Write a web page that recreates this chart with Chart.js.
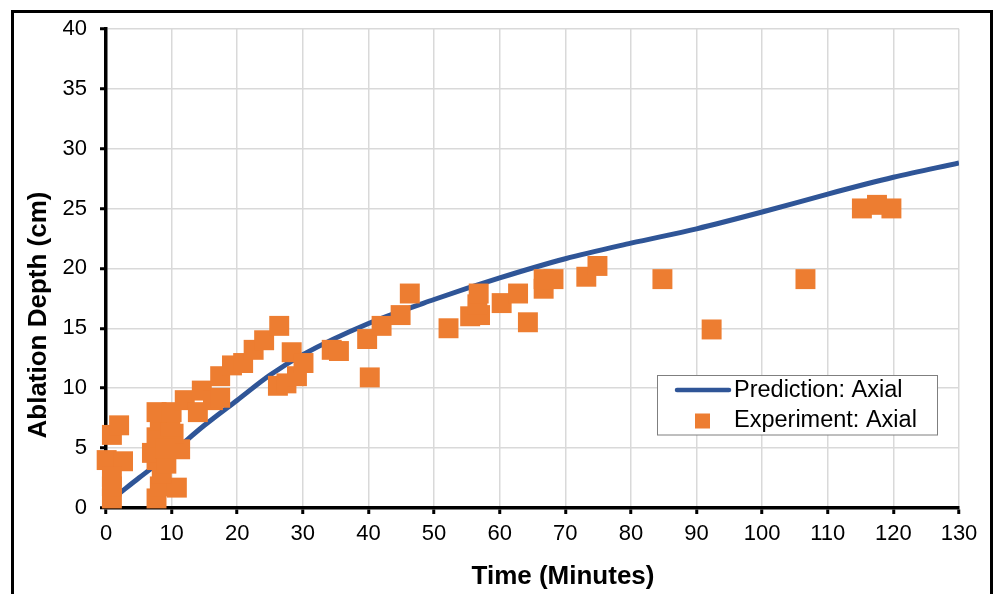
<!DOCTYPE html>
<html>
<head>
<meta charset="utf-8">
<script src="https://cdn.jsdelivr.net/npm/chart.js@4/dist/chart.umd.min.js"></script>
<style>
  html, body { margin: 0; padding: 0; background: #fff; overflow: hidden; }
  #wrap { position: relative; width: 994px; height: 594px; }
</style>
</head>
<body>
<div id="wrap"><canvas id="chart" width="994" height="594"></canvas></div>
<script>
// Axial ablation depth vs. time: model curve and measured points
const PRED_TIME  = [2, 5, 10, 15, 20, 25, 30, 40, 50, 60, 70, 80, 90, 100, 110, 120, 130];
const PRED_DEPTH = [1.2, 2.5, 4.6, 6.9, 9.0, 11.1, 12.8, 15.4, 17.4, 19.2, 20.8, 22.1, 23.3, 24.7, 26.2, 27.6, 28.8];

const EXP_TIME = [
  0.1, 0.9, 2.0, 2.6, 0.9, 0.9, 0.9,
  7.7, 8.2, 10.8, 8.5, 7.7, 7.0, 9.2, 11.3, 7.7, 10.3, 8.2, 9.0, 9.8,
  7.7, 10.0, 12.0, 14.0, 14.6, 16.3, 17.4, 17.4, 19.2, 20.9, 22.5, 24.1, 26.4,
  26.2, 27.5, 28.3, 29.1, 30.1,
  34.4, 35.5, 39.8, 40.2, 42.0, 44.9, 46.3, 52.2, 55.5, 57.0, 56.6, 56.8,
  60.3, 62.8, 64.3, 66.7, 66.7, 68.2, 73.2, 74.9, 84.8, 92.3, 106.6, 115.2, 117.5, 119.7
];
const EXP_DEPTH = [
  4.0, 6.1, 6.9, 3.9, 0.8, 1.8, 2.6,
  0.8, 1.8, 1.7, 2.9, 4.0, 4.6, 3.7, 4.9, 5.9, 6.2, 7.3, 5.0, 6.8,
  8.0, 8.0, 9.0, 8.0, 9.8, 9.0, 9.2, 11.0, 11.9, 12.1, 13.2, 14.0, 15.2,
  10.2, 10.4, 13.0, 11.0, 12.1,
  13.2, 13.1, 14.1, 10.9, 15.2, 16.1, 17.9, 15.0, 16.0, 16.1, 17.0, 17.9,
  17.1, 17.9, 15.5, 18.3, 19.1, 19.1, 19.3, 20.2, 19.1, 14.9, 19.1, 25.0, 25.3, 25.0
];

const X_TICKS = [0, 10, 20, 30, 40, 50, 60, 70, 80, 90, 100, 110, 120, 130];
const Y_TICKS = [0, 5, 10, 15, 20, 25, 30, 35, 40];

const X_TITLE = "Time (Minutes)";
const Y_TITLE = "Ablation Depth (cm)";
const PRED_LABEL = "Prediction: Axial";
const EXP_LABEL = "Experiment: Axial";

const BLUE = "#2F5597", ORANGE = "#ED7D31";
const FONT = "'Liberation Sans', Arial, sans-serif";

const zip = (xs, ys) => xs.map((x, i) => ({ x, y: ys[i] }));

// outer frame, axis titles and the in-plot legend box
const decor = {
  id: "decor",
  beforeDraw(chart) {
    const ctx = chart.ctx;
    ctx.save();
    ctx.strokeStyle = "#000";
    ctx.lineWidth = 3;
    ctx.strokeRect(12.5, 11.5, 979, 700);
    ctx.restore();
  },
  afterDraw(chart) {
    const ctx = chart.ctx;
    ctx.save();
    ctx.fillStyle = "#000";
    ctx.font = "bold 26px " + FONT;
    ctx.textAlign = "center";
    ctx.textBaseline = "middle";
    ctx.fillText(X_TITLE, 563, 577);
    ctx.translate(39, 315);
    ctx.rotate(-Math.PI / 2);
    ctx.fillText(Y_TITLE, 0, 0);
    ctx.restore();

    // legend
    ctx.save();
    ctx.fillStyle = "#fff";
    ctx.fillRect(657.5, 375.5, 280, 59.5);
    ctx.strokeStyle = "#7f7f7f";
    ctx.lineWidth = 1;
    ctx.strokeRect(657.5, 375.5, 280, 59.5);
    ctx.strokeStyle = BLUE;
    ctx.lineWidth = 4.5;
    ctx.lineCap = "round";
    ctx.beginPath();
    ctx.moveTo(677, 390);
    ctx.lineTo(729, 390);
    ctx.stroke();
    ctx.fillStyle = ORANGE;
    ctx.fillRect(695, 413.5, 15, 15);
    ctx.fillStyle = "#000";
    ctx.font = "23.5px " + FONT;
    ctx.textAlign = "left";
    ctx.textBaseline = "middle";
    ctx.fillText(PRED_LABEL, 734, 391);
    ctx.fillText(EXP_LABEL, 734, 421);
    ctx.restore();
  },
};

new Chart(document.getElementById("chart"), {
  type: "scatter",
  data: {
    datasets: [
      { label: EXP_LABEL, data: zip(EXP_TIME, EXP_DEPTH), order: 0, clip: false,
        pointStyle: "rect", pointRadius: 14.1, pointHoverRadius: 14.1, pointBorderWidth: 0,
        backgroundColor: ORANGE, borderColor: ORANGE },
      { label: PRED_LABEL, data: zip(PRED_TIME, PRED_DEPTH), order: 1, showLine: true,
        borderColor: BLUE, backgroundColor: BLUE, borderWidth: 5, pointRadius: 0,
        cubicInterpolationMode: "monotone", borderCapStyle: "butt" },
    ],
  },
  options: {
    responsive: false, animation: false,
    layout: { padding: { left: 0, right: 35, top: 28.7, bottom: 0 } },
    plugins: { legend: { display: false }, tooltip: { enabled: false } },
    scales: {
      x: {
        type: "linear", min: 0, max: 130,
        afterBuildTicks: (s) => { s.ticks = X_TICKS.map((v) => ({ value: v })); },
        afterFit: (s) => { s.height = 86; },
        grid: { color: "#d9d9d9", lineWidth: 1.5, tickLength: 6, tickColor: "#000", tickWidth: 3 },
        border: { color: "#000", width: 3.5 },
        ticks: { color: "#000", padding: 7, font: { family: FONT, size: 22 }, maxRotation: 0 },
      },
      y: {
        type: "linear", min: 0, max: 40,
        afterBuildTicks: (s) => { s.ticks = Y_TICKS.map((v) => ({ value: v })); },
        afterFit: (s) => { s.width = 106; },
        grid: { color: "#d9d9d9", lineWidth: 1.5, tickLength: 6, tickColor: "#000", tickWidth: 3 },
        border: { color: "#000", width: 3.5 },
        ticks: { color: "#000", padding: 13, font: { family: FONT, size: 22 } },
      },
    },
  },
  plugins: [decor],
});
</script>
</body>
</html>
